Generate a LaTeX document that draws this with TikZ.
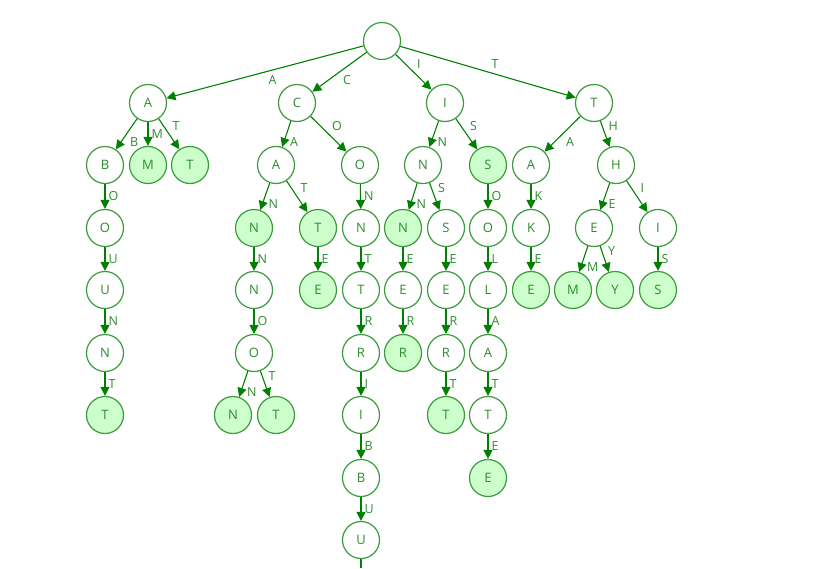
\documentclass[tikz,border=0pt]{standalone}
\usepackage{fontspec}
\setmainfont{Open Sans}
\usetikzlibrary{arrows.meta}
\definecolor{nodeborder}{HTML}{3C9C3C}
\definecolor{nodefill}{HTML}{CCFFCC}
\definecolor{txtgreen}{HTML}{2E8B2E}
\definecolor{arrowgreen}{HTML}{008000}
\tikzset{
  tn/.style={circle, draw=nodeborder, line width=1.2pt, fill=white, minimum size=37pt, inner sep=0pt, text=txtgreen, font=\fontsize{13}{14}\selectfont},
  tw/.style={tn, fill=nodefill},
  ed/.style={draw=arrowgreen, line width=1.1pt, -{Triangle[length=9pt,width=9pt]}},
  lb/.style={auto, text=txtgreen, font=\fontsize{12.5}{14}\selectfont, inner sep=3pt}
}
\begin{document}
\begin{tikzpicture}[x=1pt,y=-1pt]
\useasboundingbox (0,0) rectangle (822,568);
% nodes
\node[tn] (r) at (382,41) {};
\node[tn] (A) at (148,103) {A};
\node[tn] (C) at (297,103) {C};
\node[tn] (I) at (445,103) {I};
\node[tn] (T) at (594,103) {T};
\node[tn] (AB) at (105,165) {B};
\node[tw] (AM) at (148,165) {M};
\node[tw] (AT) at (190,165) {T};
\node[tn] (CA) at (276,165) {A};
\node[tn] (CO) at (360,165) {O};
\node[tn] (IN) at (423,165) {N};
\node[tw] (IS) at (488,165) {S};
\node[tn] (TA) at (531,165) {A};
\node[tn] (TH) at (616,165) {H};
% level 3
\node[tn] (ABO) at (105,228) {O};
\node[tw] (CAN) at (254,228) {N};
\node[tw] (CAT) at (318,228) {T};
\node[tn] (CON) at (361,228) {N};
\node[tw] (INN) at (403,228) {N};
\node[tn] (INS) at (446,228) {S};
\node[tn] (ISO) at (488,228) {O};
\node[tn] (TAK) at (531,228) {K};
\node[tn] (THE) at (594,228) {E};
\node[tn] (THI) at (658,228) {I};
% level 4
\node[tn] (ABOU) at (105,290) {U};
\node[tn] (CANN) at (254,290) {N};
\node[tw] (CATE) at (318,290) {E};
\node[tn] (CONT) at (361,290) {T};
\node[tn] (INNE) at (403,290) {E};
\node[tn] (INSE) at (446,290) {E};
\node[tn] (ISOL) at (488,290) {L};
\node[tw] (TAKE) at (531,290) {E};
\node[tw] (THEM) at (573,290) {M};
\node[tw] (THEY) at (615,290) {Y};
\node[tw] (THIS) at (658,290) {S};
% level 5
\node[tn] (ABOUN) at (105,353) {N};
\node[tn] (CANNO) at (254,353) {O};
\node[tn] (CONTR) at (361,353) {R};
\node[tw] (INNER) at (403,353) {R};
\node[tn] (INSER) at (446,353) {R};
\node[tn] (ISOLA) at (488,353) {A};
% level 6
\node[tw] (ABOUNT) at (105,415) {T};
\node[tw] (CANNON) at (233,415) {N};
\node[tw] (CANNOT) at (276,415) {T};
\node[tn] (CONTRI) at (361,415) {I};
\node[tw] (INSERT) at (446,415) {T};
\node[tn] (ISOLAT) at (488,415) {T};
% level 7
\node[tn] (CONTRIB) at (361,478) {B};
\node[tw] (ISOLATE) at (488,478) {E};
% level 8
\node[tn] (CONTRIBU) at (361,540) {U};
\coordinate (cut) at (361,568);
% edges
\draw[ed] (r) -- node[lb]{A} (A);
\draw[ed] (r) -- node[lb]{C} (C);
\draw[ed] (r) -- node[lb]{I} (I);
\draw[ed] (r) -- node[lb]{T} (T);
\draw[ed] (A) -- node[lb]{B} (AB);
\draw[ed] (A) -- node[lb]{M} (AM);
\draw[ed] (A) -- node[lb]{T} (AT);
\draw[ed] (C) -- node[lb]{A} (CA);
\draw[ed] (C) -- node[lb]{O} (CO);
\draw[ed] (I) -- node[lb]{N} (IN);
\draw[ed] (I) -- node[lb]{S} (IS);
\draw[ed] (T) -- node[lb]{A} (TA);
\draw[ed] (T) -- node[lb]{H} (TH);
\draw[ed] (AB) -- node[lb]{O} (ABO);
\draw[ed] (CA) -- node[lb]{N} (CAN);
\draw[ed] (CA) -- node[lb]{T} (CAT);
\draw[ed] (CO) -- node[lb]{N} (CON);
\draw[ed] (IN) -- node[lb]{N} (INN);
\draw[ed] (IN) -- node[lb]{S} (INS);
\draw[ed] (IS) -- node[lb]{O} (ISO);
\draw[ed] (TA) -- node[lb]{K} (TAK);
\draw[ed] (TH) -- node[lb]{E} (THE);
\draw[ed] (TH) -- node[lb]{I} (THI);
\draw[ed] (ABO) -- node[lb]{U} (ABOU);
\draw[ed] (CAN) -- node[lb]{N} (CANN);
\draw[ed] (CAT) -- node[lb]{E} (CATE);
\draw[ed] (CON) -- node[lb]{T} (CONT);
\draw[ed] (INN) -- node[lb]{E} (INNE);
\draw[ed] (INS) -- node[lb]{E} (INSE);
\draw[ed] (ISO) -- node[lb]{L} (ISOL);
\draw[ed] (TAK) -- node[lb]{E} (TAKE);
\draw[ed] (THE) -- node[lb]{M} (THEM);
\draw[ed] (THE) -- node[lb]{Y} (THEY);
\draw[ed] (THI) -- node[lb]{S} (THIS);
\draw[ed] (ABOU) -- node[lb]{N} (ABOUN);
\draw[ed] (CANN) -- node[lb]{O} (CANNO);
\draw[ed] (CONT) -- node[lb]{R} (CONTR);
\draw[ed] (INNE) -- node[lb]{R} (INNER);
\draw[ed] (INSE) -- node[lb]{R} (INSER);
\draw[ed] (ISOL) -- node[lb]{A} (ISOLA);
\draw[ed] (ABOUN) -- node[lb]{T} (ABOUNT);
\draw[ed] (CANNO) -- node[lb]{N} (CANNON);
\draw[ed] (CANNO) -- node[lb]{T} (CANNOT);
\draw[ed] (CONTR) -- node[lb]{I} (CONTRI);
\draw[ed] (INSER) -- node[lb]{T} (INSERT);
\draw[ed] (ISOLA) -- node[lb]{T} (ISOLAT);
\draw[ed] (CONTRI) -- node[lb]{B} (CONTRIB);
\draw[ed] (ISOLAT) -- node[lb]{E} (ISOLATE);
\draw[ed] (CONTRIB) -- node[lb]{U} (CONTRIBU);
\draw[draw=arrowgreen, line width=1.1pt] (CONTRIBU) -- (cut);
\end{tikzpicture}
\end{document}
